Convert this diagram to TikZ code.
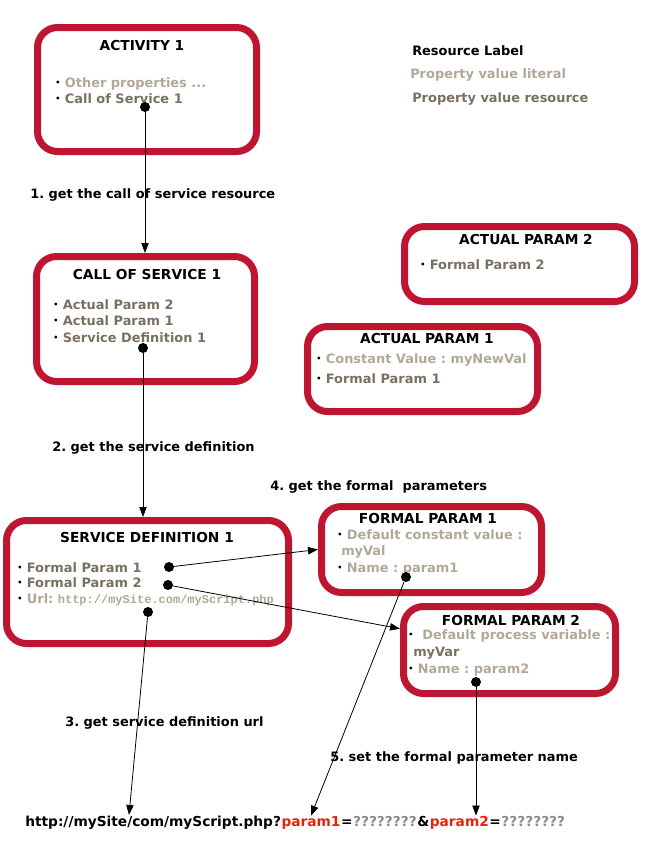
\documentclass[tikz,border=0pt]{standalone}
\usepackage{fontspec}
\setmainfont{DejaVu Sans}
\setmonofont{Liberation Mono}
\usetikzlibrary{arrows.meta, positioning}
\frenchspacing
\definecolor{boxred}{RGB}{190,21,48}
\definecolor{litgray}{RGB}{178,168,152}
\definecolor{resgray}{RGB}{122,112,98}
\definecolor{qgray}{RGB}{140,140,140}
\definecolor{pred}{RGB}{232,32,12}
\newcommand{\res}[1]{{\color{resgray}#1}}
\newcommand{\lit}[1]{{\color{litgray}#1}}
\newcommand{\bul}{\raisebox{0.8pt}{\fontsize{6}{6}\selectfont\textbullet}\ }
\tikzset{
    box/.style={draw=boxred, line width=5.25pt, rounded corners=15pt, rectangle, inner sep=0pt},
    dot/.style={circle, fill=black, inner sep=0pt, minimum size=7.5pt},
    txt/.style={anchor=base west, inner sep=0pt, font=\fontsize{9.7}{11}\selectfont\bfseries},
    ttl/.style={anchor=base, inner sep=0pt, font=\fontsize{10.3}{12}\selectfont\bfseries},
    url/.style={anchor=base west, inner sep=0pt, font=\fontsize{10.3}{12}\selectfont\bfseries},
    conn/.style={-{Triangle[length=7.5pt,width=5.5pt]}, line width=0.6pt}
}

\begin{document}
\begin{tikzpicture}[x=0.75pt, y=-0.75pt]
    \useasboundingbox (0,0) rectangle (650,865);

    % boxes
    \node[box, minimum width=164.25pt, minimum height=93pt] (act) at (147,89.5) {};
    \node[box, minimum width=163.5pt, minimum height=93.75pt] (cos) at (145.5,319) {};
    \node[box, minimum width=172.5pt, minimum height=56.25pt] (ap2) at (519.5,264) {};
    \node[box, minimum width=172.5pt, minimum height=63.75pt] (ap1) at (422.5,369) {};
    \node[box, minimum width=211.5pt, minimum height=92.25pt] (sd) at (147.5,582) {};
    \node[box, minimum width=165pt, minimum height=64.5pt] (fp1) at (431.5,549.5) {};
    \node[box, minimum width=159pt, minimum height=65.25pt] (fp2) at (509.5,650) {};

    % legend
    \node[txt] (lgres) at (412,55) {Resource Label};
    \node[txt] (lglit) at (410,78) {\lit{Property value literal}};
    \node[txt] (lgval) at (412,102) {\res{Property value resource}};

    % activity 1
    \node[ttl] (actt) at (142,50) {ACTIVITY 1};
    \node[txt] (act1) at (55,87) {\bul\lit{Other properties ...}};
    \node[txt] (act2) at (55,103) {\bul\res{Call of Service 1}};
    \node[dot] (d1) at (145,107) {};

    % call of service 1
    \node[ttl] (cost) at (147,279) {CALL OF SERVICE 1};
    \node[txt] (cos1) at (53,309) {\bul\res{Actual Param 2}};
    \node[txt] (cos2) at (53,325) {\bul\res{Actual Param 1}};
    \node[txt] (cos3) at (53,342) {\bul\res{Service Definition 1}};
    \node[dot] (d2) at (143,348) {};

    % actual params
    \node[ttl] (ap2t) at (526,244) {ACTUAL PARAM 2};
    \node[txt] (ap21) at (420,269) {\bul\res{Formal Param 2}};
    \node[ttl] (ap1t) at (427,343) {ACTUAL PARAM 1};
    \node[txt] (ap11) at (316,363) {\bul\lit{Constant Value : myNewVal}};
    \node[txt] (ap12) at (316,383) {\bul\res{Formal Param 1}};

    % service definition 1
    \node[ttl] (sdt) at (147,542) {SERVICE DEFINITION 1};
    \node[txt] (sd1) at (17,572) {\bul\res{Formal Param 1}};
    \node[txt] (sd2) at (17,587) {\bul\res{Formal Param 2}};
    \node[txt] (sd3) at (17,603) {\bul\lit{Url: {\fontsize{9}{11}\ttfamily http://mySite.com/myScript.php}}};
    \node[dot] (d3) at (169,567) {};
    \node[dot] (d4) at (168,585) {};
    \node[dot] (d5) at (148,612) {};

    % formal params
    \node[ttl] (fp1t) at (428,523) {FORMAL PARAM 1};
    \node[txt] (fp11) at (337,539) {\bul\lit{Default constant value :}};
    \node[txt] (fp12) at (341,555) {\lit{myVal}};
    \node[txt] (fp13) at (337,572) {\bul\lit{Name : param1}};
    \node[dot] (d6) at (406,577) {};
    \node[ttl] (fp2t) at (511,625) {FORMAL PARAM 2};
    \node[txt] (fp21) at (408,639) {\bul\ \lit{Default process variable :}};
    \node[txt] (fp22) at (413,656) {\res{myVar}};
    \node[txt] (fp23) at (408,673) {\bul\lit{Name : param2}};
    \node[dot] (d7) at (476,682) {};

    % step labels
    \node[txt] (s1) at (30,198) {1. get the call of service resource};
    \node[txt] (s2) at (52,451) {2. get the service definition};
    \node[txt] (s4) at (270,490) {4. get the formal\ \ parameters};
    \node[txt] (s3) at (65,726) {3. get service definition url};
    \node[txt] (s5) at (330,761) {5. set the formal parameter name};

    % url line
    \node[url] (u1) at (25,826) {http://mySite/com/myScript.php?};
    \node[url, base right=0pt of u1, text=pred] (p1) {param1};
    \node[url, base right=0pt of p1] (e1) {=};
    \node[url, base right=0pt of e1, text=qgray] (q1) {????????};
    \node[url, base right=0pt of q1] (amp) {\&};
    \node[url, base right=0pt of amp, text=pred] (p2) {param2};
    \node[url, base right=0pt of p2] (e2) {=};
    \node[url, base right=0pt of e2, text=qgray] (q2) {????????};
    \coordinate (urltip) at (129,815);

    % connectors
    \draw[conn] (d1) -- (d1 |- cos.north);
    \draw[conn] (d2) -- (d2 |- sd.north);
    \draw[conn] (d3) -- (fp1.west);
    \draw[conn] (d4) -- (fp2.169);
    \draw[conn] (d5) -- (urltip);
    \draw[conn] (d6) -- (p1.north);
    \draw[conn] (d7) -- (d7 |- p2.north);
\end{tikzpicture}
\end{document}
